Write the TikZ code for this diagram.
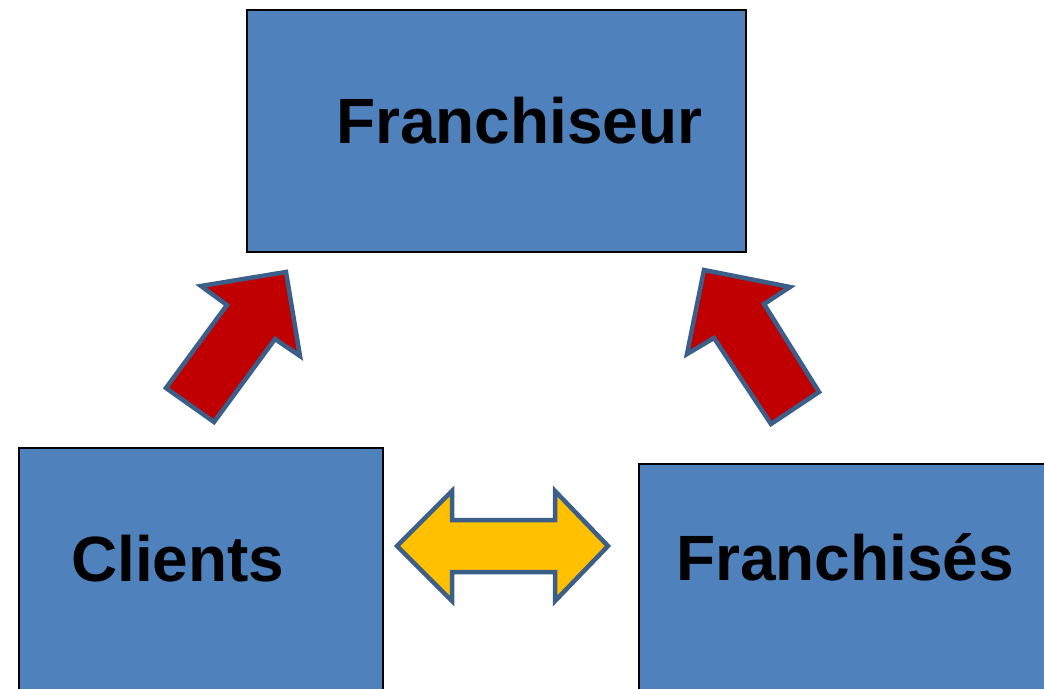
\documentclass[tikz,border=0pt]{standalone}
\usepackage{fontspec}
\setmainfont{Liberation Sans}
\definecolor{boxblue}{HTML}{4F81BD}
\definecolor{arrowred}{HTML}{C00000}
\definecolor{arrowyellow}{HTML}{FFC000}
\definecolor{edgeblue}{HTML}{3C5F8A}
\tikzset{
  box/.style={draw=black, line width=1.5pt, fill=boxblue, inner sep=0pt, anchor=north west},
  lbl/.style={anchor=base west, inner sep=0pt, font=\fontsize{64}{70}\selectfont\bfseries},
  blockarrow/.style={draw=edgeblue, line width=4.5pt, line join=miter, miter limit=10},
}
\begin{document}
\begin{tikzpicture}[x=1pt,y=-1pt]
\useasboundingbox (0,0) rectangle (1044,688);
\clip (0,0) rectangle (1044,688);
% boxes
\node[box, minimum width=499pt, minimum height=242pt] (franchiseur) at (246,9) {};
\node[box, minimum width=364pt, minimum height=260pt] (clients) at (18,447) {};
\node[box, minimum width=420pt, minimum height=245pt] (franchises) at (638,463) {};
% labels
\node[lbl] (tfranchiseur) at (336,143) {Franchiseur};
\node[lbl] (tclients) at (71,581) {Clients};
\node[lbl] (tfranchises) at (676,580) {Franchisés};
% red arrows
\draw[blockarrow, fill=arrowred] (286,272) -- (300,356) -- (275,339) -- (214,422) -- (166,388) -- (227,305) -- (201,286) -- cycle;
\draw[blockarrow, fill=arrowred] (704,270) -- (790,287) -- (764,304) -- (819,392) -- (771,424) -- (714,338) -- (687,354) -- cycle;
% yellow double arrow
\draw[blockarrow, fill=arrowyellow] (397,546) -- (452,491) -- (452,520) -- (555,520) -- (555,491) -- (608,546) -- (555,601) -- (555,572) -- (452,572) -- (452,601) -- cycle;
\end{tikzpicture}
\end{document}
